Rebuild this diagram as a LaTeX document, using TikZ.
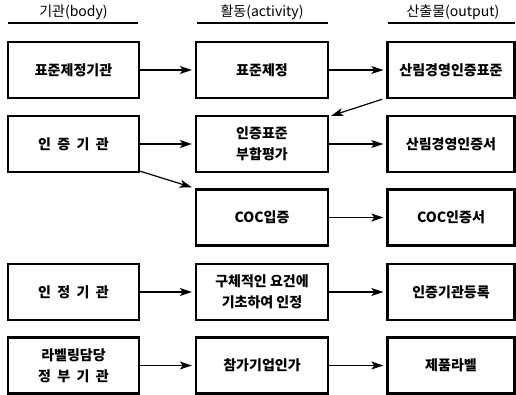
\documentclass[tikz,border=0pt]{standalone}
\usepackage{fontspec}
\setmainfont{Noto Sans CJK KR}
\usetikzlibrary{arrows.meta}
\begin{document}
\begin{tikzpicture}[x=1pt,y=-1pt,
  box/.style={draw,line width=2.4pt,minimum height=56pt,align=center,
    font=\fontsize{14}{21}\selectfont\bfseries,inner sep=0pt},
  lbox/.style={box,minimum width=131pt},
  mbox/.style={box,minimum width=132pt},
  rbox/.style={box,minimum width=127pt},
  arr/.style={-{Stealth[length=12pt,width=8pt,inset=3pt]},line width=1.2pt,shorten >=3pt},
  hdr/.style={font=\fontsize{14}{16}\selectfont,inner sep=0pt},
  uline/.style={line width=2pt}]
\useasboundingbox (0,0) rectangle (516,395);
% headers
\node[hdr] (h1) at (73.5,12) {기관(body)};
\node[hdr] (h2) at (262,12) {활동(activity)};
\node[hdr] (h3) at (453,12) {산출물(output)};
\draw[uline] (8,23.5) -- (138,23.5);
\draw[uline] (197,23.5) -- (328,23.5);
\draw[uline] (388,23.5) -- (515,23.5);
% left column
\node[lbox] (b1) at (73.5,70) {표준제정기관};
\node[lbox] (b2) at (73.5,144) {인\ \ 증\ \ 기\ \ 관};
\node[lbox] (b4) at (73.5,292) {인\ \ 정\ \ 기\ \ 관};
\node[lbox] (b5) at (73.5,365.5) {라벨링담당\\정\ \ 부\ \ 기\ \ 관};
% middle column
\node[mbox] (a1) at (262,70) {표준제정};
\node[mbox] (a2) at (262,144) {인증표준\\부합평가};
\node[mbox] (a3) at (262,217.5) {COC입증};
\node[mbox] (a4) at (262,292) {구체적인 요건에\\기초하여 인정};
\node[mbox] (a5) at (262,365.5) {참가기업인가};
% right column
\node[rbox] (o1) at (451,70) {산림경영인증표준};
\node[rbox] (o2) at (451,144) {산림경영인증서};
\node[rbox] (o3) at (451,217.5) {COC인증서};
\node[rbox] (o4) at (451,292) {인증기관등록};
\node[rbox] (o5) at (451,365.5) {제품라벨};
% arrows
\foreach \s/\t in {b1/a1,b2/a2,b4/a4,b5/a5,a1/o1,a2/o2,a3/o3,a4/o4,a5/o5}
  \draw[arr] (\s.east) -- (\t.west);
\draw[arr,shorten >=0pt] ([xshift=-4pt]o1.south west) -- ([xshift=2pt,yshift=-1pt]a2.north east);
\draw[arr,shorten >=0pt] ([yshift=2pt]b2.south east) -- ([xshift=-3pt,yshift=1pt]a3.north west);
\end{tikzpicture}
\end{document}
